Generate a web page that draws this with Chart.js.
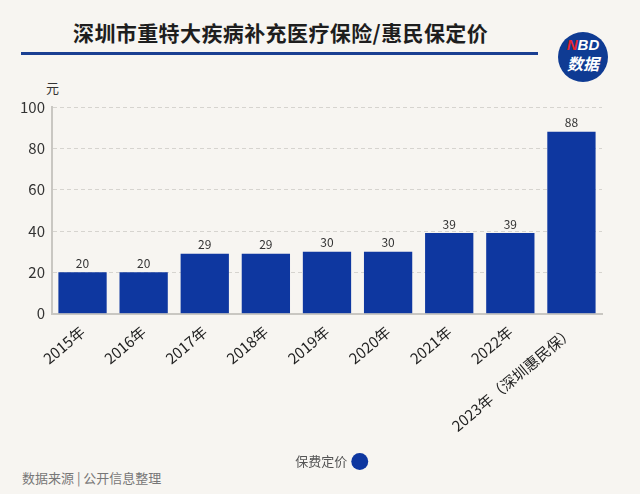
<!DOCTYPE html>
<html>
<head>
<meta charset="utf-8">
<script src="https://cdn.jsdelivr.net/npm/chart.js@4"></script>
<style>
  html, body { margin:0; padding:0; }
  body { width:640px; height:494px; background:#f7f5f1; position:relative; overflow:hidden;
         font-family:"Noto Sans CJK SC","Noto Sans",sans-serif; }
  #title { position:absolute; left:73px; top:17px; font-size:21px; font-weight:bold; color:#1e1e1e;
           white-space:nowrap; line-height:30px; letter-spacing:0.4px; }
  #rule { position:absolute; left:21px; top:52px; width:517px; height:3px; background:#1a3f92; }
  #logo { position:absolute; left:558px; top:32px; width:50px; height:50px; border-radius:50%;
          background:#0f3b93; color:#fff; text-align:center; font-weight:bold; font-style:italic; }
  #logo .a { position:absolute; left:0; right:0; top:5px; font-family:"Liberation Sans",Arial,sans-serif; font-size:15px; line-height:16px; }
  #logo .a span { color:#e8262d; }
  #logo .b { position:absolute; left:0; right:0; top:21px; font-size:16px; line-height:20px; }
  #unit { position:absolute; left:46px; top:78px; font-size:13px; color:#333; }
  #src { position:absolute; left:22px; top:469px; font-size:13px; color:#777; line-height:18px; }
  #wrap { position:absolute; left:0; top:0; width:640px; height:494px; }
</style>
</head>
<body>
<div id="title">深圳市重特大疾病补充医疗保险/惠民保定价</div>
<div id="rule"></div>
<div id="logo"><div class="a"><span>N</span>BD</div><div class="b">数据</div></div>
<div id="unit">元</div>
<div id="src">数据来源 | 公开信息整理</div>
<div id="wrap"><canvas id="c" width="640" height="494"></canvas></div>
<script>
const categories = ["2015年","2016年","2017年","2018年","2019年","2020年","2021年","2022年","2023年（深圳惠民保）"];
const premiums = [20, 20, 29, 29, 30, 30, 39, 39, 88];
const seriesName = "保费定价";
const yTicks = [0, 20, 40, 60, 80, 100];

const FONT = '"Noto Sans CJK SC","Noto Sans",sans-serif';

const valueLabels = {
  id: 'valueLabels',
  afterDatasetsDraw(chart) {
    const ctx = chart.ctx;
    ctx.save();
    ctx.font = '12px ' + FONT;
    ctx.fillStyle = '#333';
    ctx.textAlign = 'center';
    ctx.textBaseline = 'bottom';
    chart.getDatasetMeta(0).data.forEach((bar, i) => {
      ctx.fillText(String(premiums[i]), bar.x, bar.y - 3);
    });
    ctx.restore();
  }
};

const legendShift = {
  id: 'legendShift',
  afterLayout(chart) {
    if (chart.legend) { chart.legend.left += 23; chart.legend.right += 23; }
  }
};

new Chart(document.getElementById('c'), {
  type: 'bar',
  data: {
    labels: categories,
    datasets: [{
      label: seriesName,
      data: premiums,
      backgroundColor: '#0e37a0',
      borderWidth: 0,
      barPercentage: 0.79,
      categoryPercentage: 1.0
    }]
  },
  options: {
    responsive: false,
    animation: false,
    devicePixelRatio: 1,
    layout: { padding: { top: 107, left: 13, right: 38, bottom: 16 } },
    plugins: {
      tooltip: { enabled: false },
      legend: {
        position: 'bottom',
        rtl: true,
        labels: {
          usePointStyle: true,
          pointStyle: 'circle',
          boxWidth: 12, boxHeight: 12,
          color: '#555',
          font: { size: 13, family: FONT },
          padding: 11
        }
      }
    },
    scales: {
      x: {
        grid: { display: false, drawTicks: false },
        border: { color: '#c9c7c2', width: 2 },
        ticks: {
          color: '#222',
          font: { size: 15, family: FONT },
          maxRotation: 40, minRotation: 40,
          padding: 9,
          autoSkip: false
        }
      },
      y: {
        min: 0, max: 100,
        afterBuildTicks(scale) { scale.ticks = yTicks.map(v => ({ value: v })); },
        grid: { color: '#d6d4cf', drawTicks: false },
        border: { color: '#c9c7c2', width: 2, dash: [4, 3] },
        ticks: {
          color: '#333',
          font: { size: 15, family: FONT },
          padding: 7
        }
      }
    }
  },
  plugins: [valueLabels, legendShift]
});
</script>
</body>
</html>
